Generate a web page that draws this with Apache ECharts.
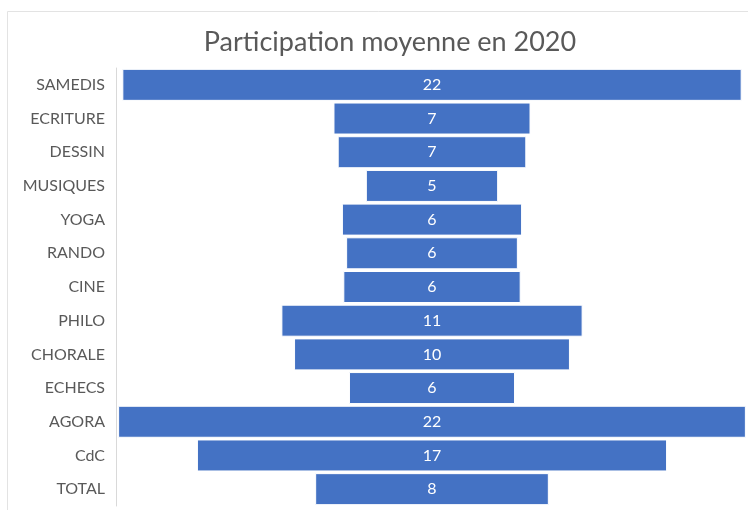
<!DOCTYPE html>
<html>
<head>
<meta charset="utf-8">
<script src="https://cdn.jsdelivr.net/npm/echarts@6/dist/echarts.min.js"></script>
<style>
  html, body { margin: 0; padding: 0; background: #fff; }
  #chart { width: 748px; height: 510px; }
</style>
</head>
<body>
<div id="chart"></div>
<script>
// Participation moyenne par activité (barres centrées, style entonnoir)
const categories = ['SAMEDIS', 'ECRITURE', 'DESSIN', 'MUSIQUES', 'YOGA', 'RANDO', 'CINE',
                    'PHILO', 'CHORALE', 'ECHECS', 'AGORA', 'CdC', 'TOTAL'];
const participation = [22.0, 7.0, 6.7, 4.7, 6.4, 6.1, 6.3, 10.7, 9.8, 5.9, 22.3, 16.7, 8.3];

const AXIS_MAX = 22.45;
// décalage transparent pour centrer chaque barre
const offsets = participation.map((v) => (AXIS_MAX - v) / 2);

const chart = echarts.init(document.getElementById('chart'));
chart.setOption({
  animation: false,
  backgroundColor: '#fff',
  title: {
    text: 'Participation moyenne en 2020',
    left: 385,
    textAlign: 'center',
    top: 24,
    textStyle: { fontFamily: 'Lato', fontSize: 27, fontWeight: 'normal', color: '#595959' },
  },
  graphic: [{
    type: 'rect',
    shape: { x: 7.5, y: 11.5, width: 760, height: 520 },
    style: { fill: 'none', stroke: '#e3e3e3', lineWidth: 1 },
    silent: true,
  }],
  grid: { left: 116, right: 0, top: 68, bottom: 4 },
  xAxis: {
    type: 'value',
    min: 0,
    max: AXIS_MAX,
    show: false,
  },
  yAxis: {
    type: 'category',
    inverse: true,
    data: categories,
    axisLine: { lineStyle: { color: '#d9d9d9' } },
    axisTick: { show: false },
    axisLabel: { fontFamily: 'Lato', fontSize: 16, color: '#595959', margin: 11 },
  },
  series: [
    {
      type: 'bar',
      stack: 'funnel',
      data: offsets,
      barWidth: 32,
      itemStyle: { color: 'transparent' },
      silent: true,
    },
    {
      type: 'bar',
      stack: 'funnel',
      data: participation,
      barWidth: 32,
      itemStyle: { color: '#4472C4', borderColor: '#ffffff', borderWidth: 1 },
      label: {
        show: true,
        position: 'inside',
        color: '#ffffff',
        fontFamily: 'Lato',
        fontSize: 16,
        formatter: (p) => Math.round(p.value),
      },
    },
  ],
});
</script>
</body>
</html>
